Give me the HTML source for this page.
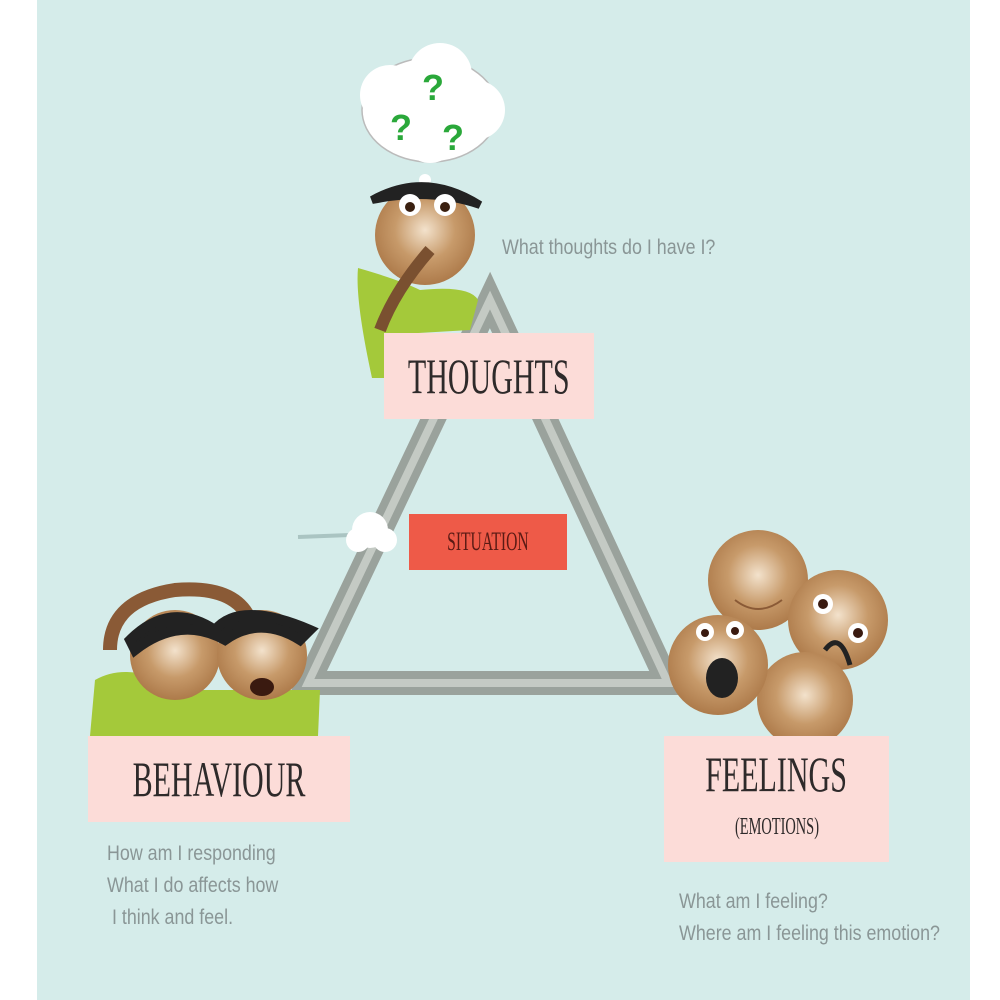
<!DOCTYPE html>
<html><head><meta charset="utf-8"><style>
body{margin:0;width:1000px;height:1000px;background:#fff;position:relative;overflow:hidden;font-family:"Liberation Sans",sans-serif}
.bg{position:absolute;left:37px;top:0;width:933px;height:1000px;background:#d5ecea}
.box{position:absolute;background:#fcdcd8;text-align:center;color:#2e2a2a}
.t{display:inline-block;margin:0 -300px;transform:scaleX(.6);transform-origin:center;font-family:"Liberation Serif",serif;white-space:nowrap}
.s{position:absolute;color:#8a9696;font-size:21px;line-height:32px;white-space:nowrap;transform:scaleX(.85);transform-origin:left top;font-weight:300}
</style></head><body>
<div class="bg"></div>
<svg width="1000" height="1000" style="position:absolute;left:0;top:0">
<defs><radialGradient id="sk" cx="0.5" cy="0.45" r="0.6"><stop offset="0" stop-color="#f3e2cc"/><stop offset="0.5" stop-color="#c79a6a"/><stop offset="1" stop-color="#a87444"/></radialGradient></defs>
<polygon points="490,300 308,683 668,683" fill="none" stroke="#9aa29c" stroke-width="24" stroke-linejoin="miter"/>
<polygon points="490,300 308,683 668,683" fill="none" stroke="#c4cac4" stroke-width="8"/>
<line x1="298" y1="537" x2="350" y2="535" stroke="#aac4c2" stroke-width="4"/>
<circle cx="370" cy="530" r="18" fill="#fff"/><circle cx="358" cy="540" r="12" fill="#fff"/><circle cx="385" cy="540" r="12" fill="#fff"/>
<g fill="#fff" stroke="#bbb" stroke-width="1.5">
<ellipse cx="430" cy="110" rx="68" ry="52"/></g>
<g fill="#fff"><circle cx="390" cy="95" r="30"/><circle cx="440" cy="75" r="32"/><circle cx="475" cy="110" r="30"/><circle cx="430" cy="135" r="28"/><circle cx="425" cy="180" r="6"/></g>
<g fill="#2aa83a" font-size="36" font-family="Liberation Sans" font-weight="bold"><text x="422" y="100">?</text><text x="390" y="140">?</text><text x="442" y="150">?</text></g>
<path d="M358,268 Q400,280 420,290 Q470,285 478,300 L470,330 L384,335 L384,378 L372,378 Q355,300 358,268Z" fill="#a4c93a"/>
<circle cx="425" cy="235" r="50" fill="url(#sk)"/>
<path d="M372,200 Q425,170 480,205 Q430,188 372,200Z" fill="#222" stroke="#222" stroke-width="8"/>
<circle cx="410" cy="205" r="11" fill="#fff"/><circle cx="445" cy="205" r="11" fill="#fff"/>
<circle cx="410" cy="207" r="5" fill="#3a2010"/><circle cx="445" cy="207" r="5" fill="#3a2010"/>
<path d="M380,330 Q395,290 430,250" stroke="#7a5030" stroke-width="12" fill="none"/>
<path d="M95,680 Q130,660 180,690 L320,690 L318,736 L90,736Z" fill="#a4c93a"/>
<path d="M110,650 Q110,600 175,590 Q235,585 250,620" stroke="#8a5a36" stroke-width="14" fill="none"/>
<circle cx="175" cy="655" r="45" fill="url(#sk)"/>
<circle cx="262" cy="655" r="45" fill="url(#sk)"/>
<path d="M130,640 Q170,600 215,630 Q240,600 310,630 L300,640 Q260,615 225,640 Q180,615 135,650Z" fill="#222" stroke="#222" stroke-width="10"/>
<ellipse cx="262" cy="687" rx="12" ry="9" fill="#3a1a10"/>
<circle cx="758" cy="580" r="50" fill="url(#sk)"/>
<circle cx="838" cy="620" r="50" fill="url(#sk)"/>
<circle cx="805" cy="700" r="48" fill="url(#sk)"/>
<circle cx="718" cy="665" r="50" fill="url(#sk)"/>
<circle cx="705" cy="632" r="9" fill="#fff"/><circle cx="735" cy="630" r="9" fill="#fff"/>
<circle cx="705" cy="633" r="4" fill="#3a1a10"/><circle cx="735" cy="631" r="4" fill="#3a1a10"/>
<ellipse cx="722" cy="678" rx="16" ry="20" fill="#222"/>
<circle cx="823" cy="604" r="10" fill="#fff"/><circle cx="858" cy="633" r="10" fill="#fff"/>
<circle cx="823" cy="604" r="5" fill="#3a1a10"/><circle cx="858" cy="633" r="5" fill="#3a1a10"/>
<path d="M825,650 Q840,630 850,665" stroke="#222" stroke-width="5" fill="none"/>
<path d="M735,600 Q758,618 782,600" stroke="#8a5a36" stroke-width="2" fill="none"/>
</svg>
<div class="box" style="left:384px;top:333px;width:210px;height:86px"><span class="t" style="font-size:50px;line-height:86px">THOUGHTS</span></div>
<div style="position:absolute;left:409px;top:514px;width:158px;height:56px;background:#ee5a48;text-align:center;overflow:hidden"><span class="t" style="font-size:26px;line-height:56px;color:#5a1a14">SITUATION</span></div>
<div class="box" style="left:88px;top:736px;width:262px;height:86px"><span class="t" style="font-size:50px;line-height:86px">BEHAVIOUR</span></div>
<div class="box" style="left:664px;top:736px;width:225px;height:126px"><span class="t" style="font-size:50px;line-height:76px">FEELINGS</span><br><span class="t" style="font-size:24px;line-height:30px">(EMOTIONS)</span></div>
<div class="s" style="left:502px;top:232px">What thoughts do I have I?</div>
<div class="s" style="left:107px;top:838px">How am I responding<br>What I do affects how<br>&nbsp;I think and feel.</div>
<div class="s" style="left:679px;top:886px">What am I feeling?<br>Where am I feeling this emotion?</div>
</body></html>
